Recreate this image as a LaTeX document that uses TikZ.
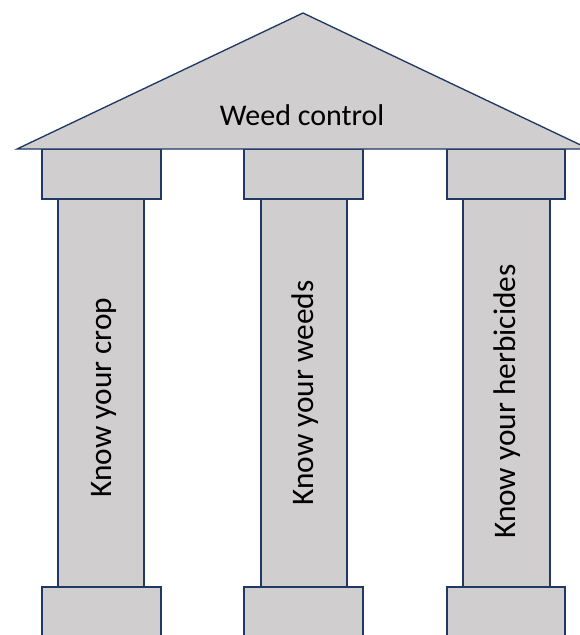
\documentclass[tikz,border=0pt]{standalone}
\usepackage{fontspec}
\setmainfont{Carlito}
\definecolor{roofgray}{RGB}{208,206,206}
\definecolor{edgenavy}{RGB}{32,56,100}

\begin{document}
\begin{tikzpicture}[x=0.75pt,y=0.75pt,yscale=-1,xscale=1,
    part/.style={draw=edgenavy,fill=roofgray,line width=1pt,line join=miter},
    label/.style={inner sep=0pt,font=\fontsize{22.5}{26}\selectfont},
    pillarlabel/.style={label,anchor=base,rotate=90,font=\fontsize{23.5}{27}\selectfont}]
    \useasboundingbox (0,0) rectangle (579,635);

    %Shaft Rectangles
    \draw[part] (58,198) rectangle (144,587) ;
    \draw[part] (261,198) rectangle (347,587) ;
    \draw[part] (463,198) rectangle (550,587) ;
    %Capital Rectangles
    \draw[part] (42,149) rectangle (161,199) ;
    \draw[part] (244,149) rectangle (363,199) ;
    \draw[part] (447,149) rectangle (565,199) ;
    %Base Rectangles
    \draw[part] (42,587) rectangle (161,645) ;
    \draw[part] (244,587) rectangle (363,645) ;
    \draw[part] (447,587) rectangle (565,645) ;
    %Roof Triangle
    \draw[part] (17,149) -- (303,13) -- (589,149) -- cycle ;

    % Text Node
    \node (roofText) [label,anchor=base] at (302,125) {Weed control};
    % Text Node
    \node (cropText) [pillarlabel] at (111,397.5) {Know your crop};
    % Text Node
    \node (weedText) [pillarlabel] at (313,393) {Know your weeds};
    % Text Node
    \node (herbText) [pillarlabel] at (515,401.5) {Know your herbicides};

\end{tikzpicture}
\end{document}
